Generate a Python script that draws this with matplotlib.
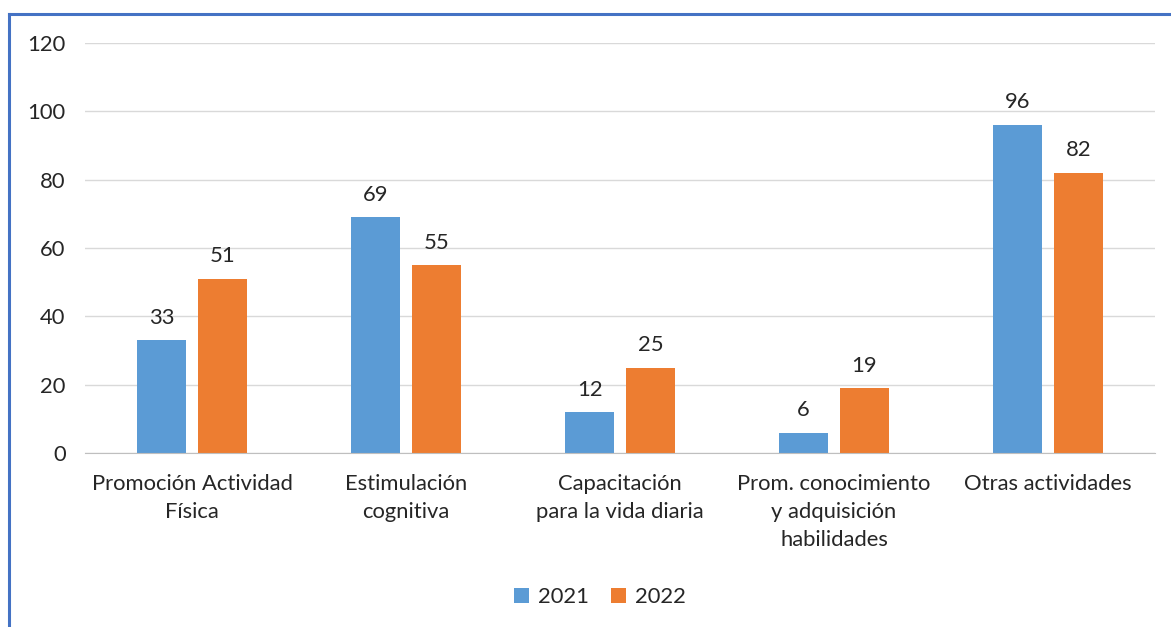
import matplotlib
matplotlib.use("Agg")
import matplotlib.pyplot as plt
from matplotlib.lines import Line2D
import numpy as np

categories = ["Promoción Actividad\nFísica", "Estimulación\ncognitiva",
              "Capacitación\npara la vida diaria",
              "Prom. conocimiento\ny adquisición\nhabilidades", "Otras actividades"]
series_names = ["2021", "2022"]
values_2021 = [33, 69, 12, 6, 96]
values_2022 = [51, 55, 25, 19, 82]
yticks = [0, 20, 40, 60, 80, 100, 120]

plt.rcParams['font.family'] = ['Lato', 'DejaVu Sans']
c1, c2 = "#5B9BD5", "#ED7D31"
fs = 15.8

fig = plt.figure(figsize=(11.71, 6.27), dpi=100)
ax = fig.add_axes([85/1171, 1-453/627, (1155-85)/1171, (453-43)/627])

x = np.arange(len(categories))
w = 0.229
off = 0.1425
b1 = ax.bar(x - off, values_2021, w, color=c1, label=series_names[0], zorder=3)
b2 = ax.bar(x + off, values_2022, w, color=c2, label=series_names[1], zorder=3)
for bars in (b1, b2):
    for r in bars:
        ax.annotate(f"{int(r.get_height())}", (r.get_x() + r.get_width()/2, r.get_height()),
                    xytext=(0, 9), textcoords="offset points", ha="center", va="bottom",
                    fontsize=fs, color="#262626")

ax.set_xlim(-0.5, len(categories) - 0.5)
ax.set_ylim(0, 120)
ax.set_yticks(yticks)
ax.set_yticklabels([str(t) for t in yticks], fontsize=fs, color="#262626")
ax.set_xticks(x)
ax.set_xticklabels(categories, fontsize=fs, color="#262626", linespacing=1.5)
ax.tick_params(axis='both', length=0)
ax.tick_params(axis='y', pad=14)
ax.tick_params(axis='x', pad=15)
ax.grid(axis='y', color="#D9D9D9", linewidth=1, zorder=0)
for s in ["top", "right", "left"]:
    ax.spines[s].set_visible(False)
ax.spines["bottom"].set_color("#BFBFBF")
ax.spines["bottom"].set_zorder(4)

leg = fig.legend(handles=[b1, b2], labels=series_names, loc="center",
                 bbox_to_anchor=(600/1171, 1-597/627), ncol=2, frameon=False,
                 fontsize=fs, handlelength=0.7, handleheight=0.7, columnspacing=1.0,
                 handletextpad=0.4)
for t in leg.get_texts():
    t.set_color("#262626")

# blue frame lines (top and left)
fig.add_artist(Line2D([9/1171, 1], [1-14/627, 1-14/627], color="#4472C4", linewidth=2.2))
fig.add_artist(Line2D([9/1171, 9/1171], [0, 1-14/627], color="#4472C4", linewidth=2.2))

fig.savefig("out.png", dpi=100)
